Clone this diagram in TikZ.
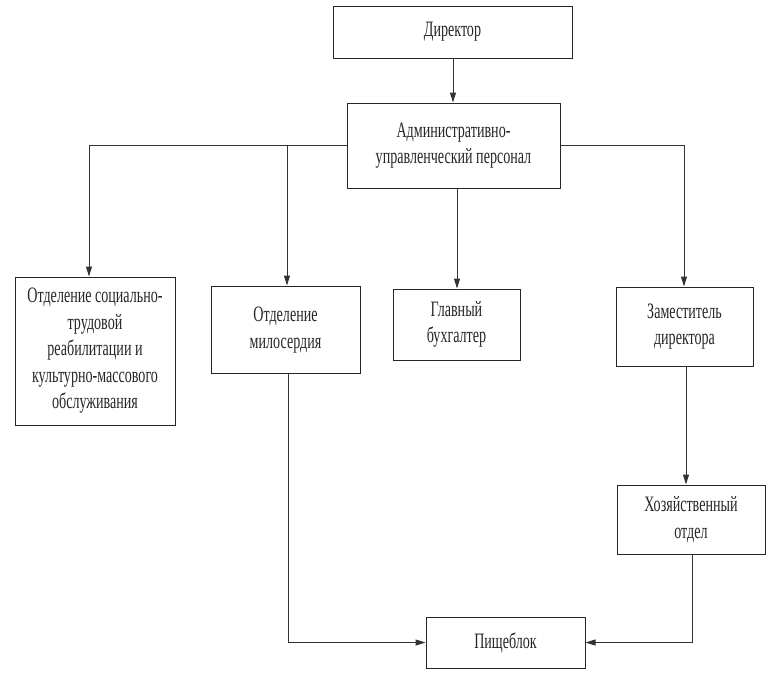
\documentclass[tikz,border=0pt]{standalone}
\usepackage{fontspec}
\setmainfont{Liberation Serif}[FakeStretch=0.64]
\usetikzlibrary{arrows.meta}
\begin{document}
\begin{tikzpicture}[x=1pt,y=-1pt,
  box/.style={draw=black!85,line width=1pt,rectangle,inner sep=0pt,align=center,
    font=\fontsize{22}{26.5}\selectfont,text=black!85},
  conn/.style={draw=black!80,line width=1pt},
  arr/.style={conn,-{Triangle[length=10pt,width=6pt]}}]
\useasboundingbox (0,0) rectangle (773,675);
\node[box,minimum width=239pt,minimum height=52pt] (dir) at (452.5,32) {Директор};
\node[box,minimum width=213pt,minimum height=85pt] (aup) at (453.5,145.5) {Административно-\\управленческий персонал};
\node[box,minimum width=160pt,minimum height=148pt] (otd) at (95,351) {Отделение социально-\\трудовой\\реабилитации и\\культурно-массового\\обслуживания};
\node[box,minimum width=149pt,minimum height=87pt] (mil) at (285.5,329.5) {\raisebox{4pt}{\begin{tabular}{@{}c@{}}Отделение\\милосердия\end{tabular}}};
\node[box,minimum width=127pt,minimum height=71pt] (glav) at (456.5,324.5) {Главный\\бухгалтер};
\node[box,minimum width=137pt,minimum height=79pt] (zam) at (684.5,326.5) {Заместитель\\директора};
\node[box,minimum width=148pt,minimum height=69pt] (xoz) at (691,519.5) {Хозяйственный\\отдел};
\node[box,minimum width=159pt,minimum height=51pt] (pish) at (505.5,642.5) {Пищеблок};
\coordinate (lc) at (89,145.5);
\coordinate (mc) at (287,145.5);
\coordinate (rc) at (684,145.5);
\draw[arr] (dir.south -| 453,0) -- (aup.north -| 453,0);
\draw[conn] (aup.west) -- (lc);
\draw[arr] (lc) -- (lc |- otd.north);
\draw[arr] (mc) -- (mc |- mil.north);
\draw[arr] (aup.south -| 457,0) -- (glav.north -| 457,0);
\draw[arr] (aup.east) -- (rc) -- (rc |- zam.north);
\draw[arr] (zam.south -| 686,0) -- (xoz.north -| 686,0);
\draw[arr] (mil.south -| 288,0) |- (pish.west);
\draw[arr] (xoz.south -| 692,0) |- (pish.east);
\end{tikzpicture}
\end{document}
